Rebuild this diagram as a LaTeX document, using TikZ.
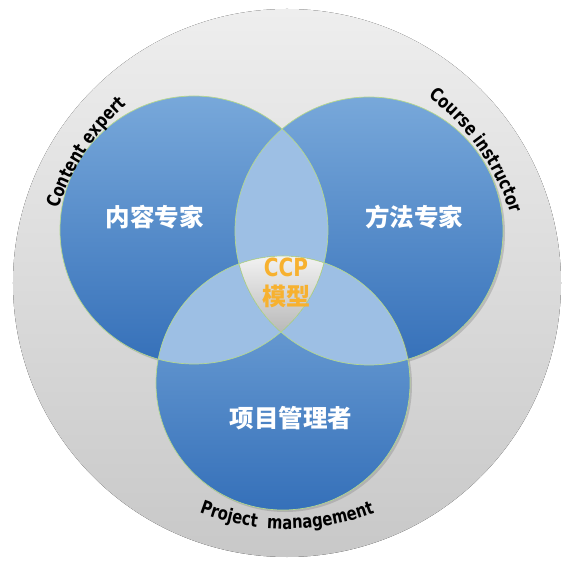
\documentclass[tikz,border=0pt]{standalone}
\usepackage{fontspec}
\setmainfont{DejaVu Sans}
\newfontfamily\cjk{Noto Sans CJK SC}
\newfontfamily\arcfamily{DejaVu Sans}[FakeStretch=0.8]
\usetikzlibrary{decorations.text,shadows}
\definecolor{graytop}{HTML}{EEEEEE}
\definecolor{graybot}{HTML}{C8C8C8}
\definecolor{bluetop}{HTML}{78A8DA}
\definecolor{bluebot}{HTML}{3570B9}
\definecolor{lensblue}{HTML}{9DBFE4}
\definecolor{coretop}{HTML}{F3F3F3}
\definecolor{corebot}{HTML}{B8B8B8}
\definecolor{rimgreen}{HTML}{B4D78E}
\definecolor{ccporange}{HTML}{F7B12F}
\newcommand\arcfont{\arcfamily\bfseries\fontsize{18.5}{18.5}\selectfont}
\begin{document}
\begin{tikzpicture}[x=1pt, y=1pt, line join=round, line cap=round,
	bluedisk/.style={top color=bluetop, bottom color=bluebot, drop shadow={shadow xshift=2pt, shadow yshift=-2pt, opacity=0.35}},
	rim/.style={draw=rimgreen, line width=0.7pt},
	cjklabel/.style={text=white, font=\cjk\bfseries\fontsize{24.5}{24.5}\selectfont},
	ccplabel/.style={text=ccporange, inner sep=0pt},
	arctext/.style={decorate, decoration={text along path, text align=center, text={|\arcfont|#1}}}]
	\def \rr{134pt}
	\def \rb{127pt}
	\useasboundingbox (-287,-278) rectangle (296,283);
	\coordinate (O) at (0,0);
	\coordinate (cl) at (-93,53);
	\coordinate (cr) at (82,52);
	\coordinate (cb) at (-4,-100);
	\fill[top color=graytop, bottom color=graybot] (O) circle[radius=274pt];
	\path[bluedisk] (cl) circle[radius=\rr];
	\path[bluedisk] (cr) circle[radius=\rr];
	\path[bluedisk] (cb) circle[radius=\rb];
	\begin{scope}
		\clip (cl) circle[radius=\rr];
		\fill[lensblue] (cr) circle[radius=\rr] (cb) circle[radius=\rb];
	\end{scope}
	\begin{scope}
		\clip (cr) circle[radius=\rr];
		\fill[lensblue] (cb) circle[radius=\rb];
	\end{scope}
	\begin{scope}
		\clip (cl) circle[radius=\rr];
		\clip (cr) circle[radius=\rr];
		\clip (cb) circle[radius=\rb];
		\fill[top color=coretop, bottom color=corebot] (-60,28) rectangle (60,-50);
	\end{scope}
	\draw[rim] (cl) circle[radius=\rr] (cr) circle[radius=\rr] (cb) circle[radius=\rb];
	\node[cjklabel] (content) at (-132,66) {内容专家};
	\node[cjklabel] (method) at (127,66) {方法专家};
	\node[cjklabel] (manager) at (4,-135) {项目管理者};
	\node[ccplabel, font=\arcfamily\bfseries\fontsize{25}{25}\selectfont] (ccp) at (-1,16) {CCP};
	\node[ccplabel, font=\cjk\bfseries\fontsize{24}{24}\selectfont] (model) at (-1,-13) {模型};
	\path[arctext={Content expert}] (O) ++(177:240pt) arc[start angle=177, end angle=117, radius=240pt];
	\path[arctext={Course instructor}] (O) ++(65:234pt) arc[start angle=65, end angle=5, radius=234pt];
	\path[arctext={Project{\hspace{5pt}} management}] (O) ++(240:246pt) arc[start angle=240, end angle=300, radius=246pt];
\end{tikzpicture}
\end{document}
